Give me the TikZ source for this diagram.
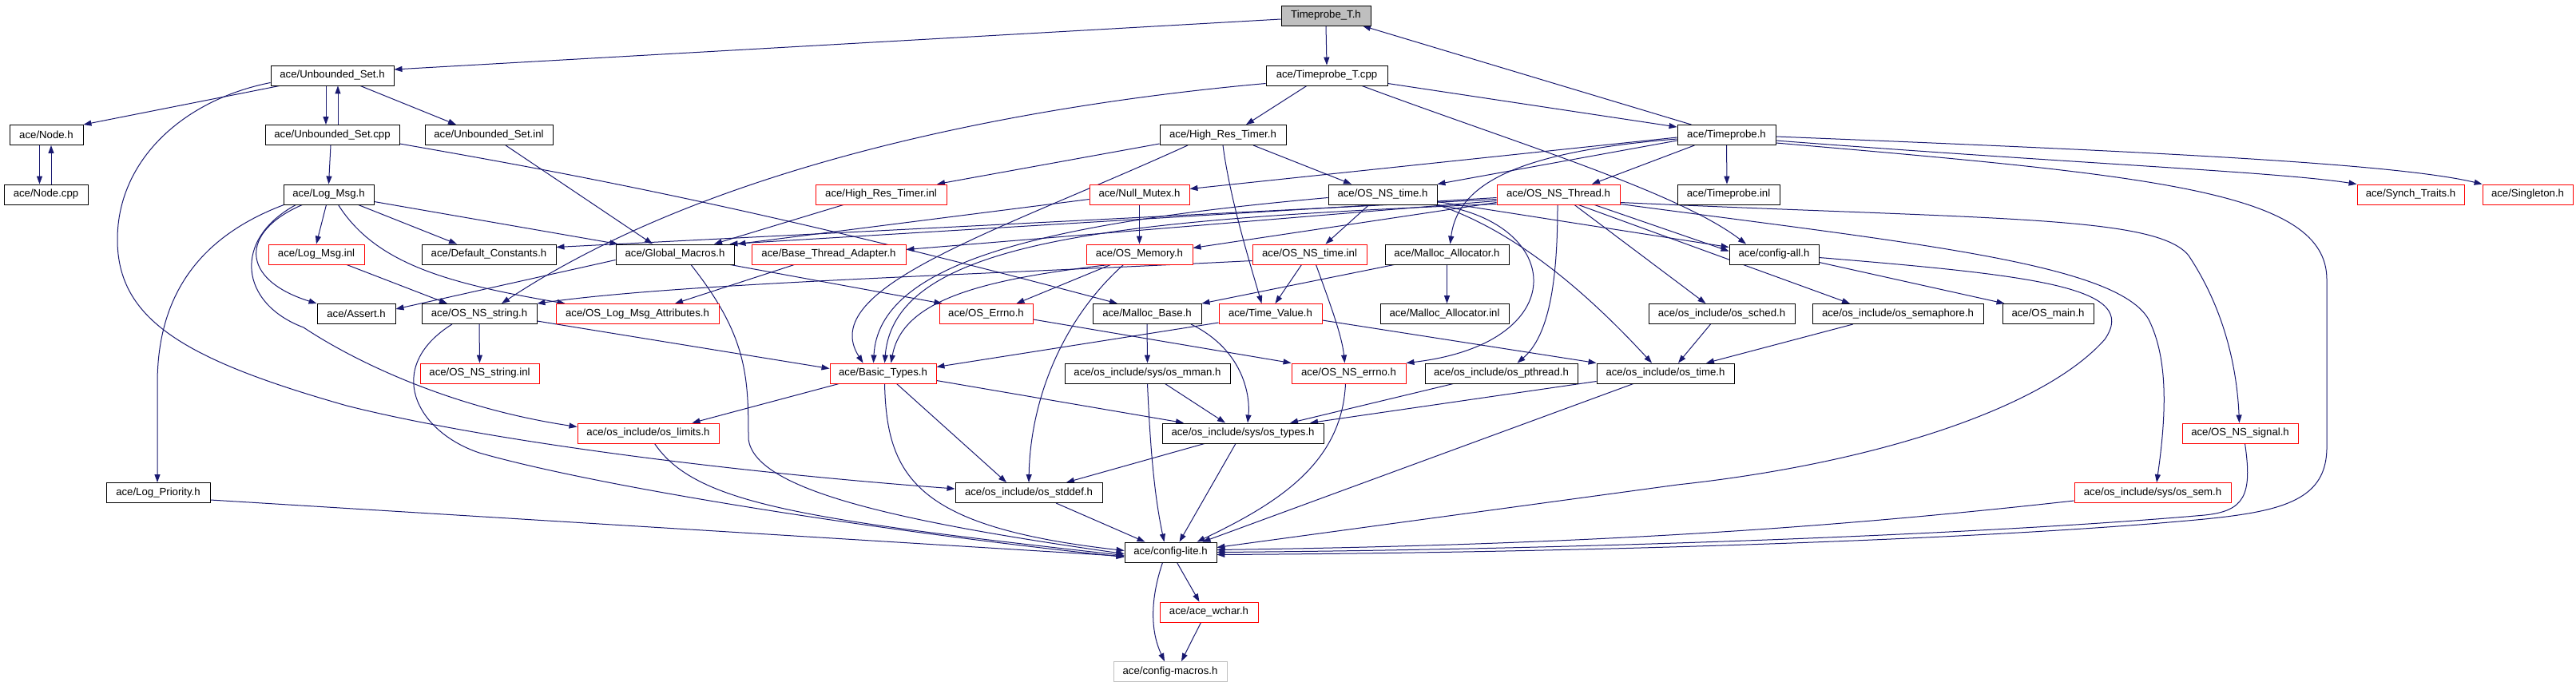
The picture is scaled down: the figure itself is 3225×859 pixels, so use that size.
\documentclass[tikz,border=0pt]{standalone}
\usepackage{fontspec}
\setmainfont{Liberation Sans}
\usetikzlibrary{arrows.meta}
\definecolor{edgecol}{HTML}{191970}
\definecolor{boxgray}{HTML}{BFBFBF}
\newcommand\fsz{\fontsize{13.2}{15}\selectfont}
\pgfdeclarelayer{back}
\pgfdeclarelayer{edges}
\pgfsetlayers{back,edges,main}
\tikzset{
  box/.style={draw=black, line width=0.9pt, fill=white, minimum height=25pt, inner sep=0pt, font=\fsz},
  redbox/.style={box, draw=red},
  graybox/.style={box, fill=boxgray},
  ghostbox/.style={box, draw=boxgray},
  edge/.style={draw=edgecol, line width=1pt, -{Triangle[length=10pt,width=7pt]}}
}
\begin{document}
\begin{tikzpicture}[x=1pt,y=-1pt]
\useasboundingbox (0,0) rectangle (3225,859);
\begin{pgfonlayer}{back}
\fill[white] (0,0) rectangle (3225,859);
\end{pgfonlayer}

% row 0
\node[graybox, minimum width=112pt] (TT_h) at (1660,19.5) {Timeprobe\_T.h};
% row 1
\node[box, minimum width=154pt] (US_h) at (416,94.5) {ace/Unbounded\_Set.h};
\node[box, minimum width=152pt] (TT_cpp) at (1661,94.5) {ace/Timeprobe\_T.cpp};
% row 2
\node[box, minimum width=92pt] (Node_h) at (58,169) {ace/Node.h};
\node[box, minimum width=168pt] (US_cpp) at (416,169) {ace/Unbounded\_Set.cpp};
\node[box, minimum width=160pt] (US_inl) at (612,169) {ace/Unbounded\_Set.inl};
\node[box, minimum width=158pt] (HRT_h) at (1531,169) {ace/High\_Res\_Timer.h};
\node[box, minimum width=123pt] (TP_h) at (2161.5,169) {ace/Timeprobe.h};
% row 3
\node[box, minimum width=105pt] (Node_cpp) at (57.5,243.5) {ace/Node.cpp};
\node[box, minimum width=113pt] (LogMsg_h) at (411.5,243.5) {ace/Log\_Msg.h};
\node[redbox, minimum width=164pt] (HRT_inl) at (1103,243.5) {ace/High\_Res\_Timer.inl};
\node[redbox, minimum width=125pt] (NullMutex) at (1426.5,243.5) {ace/Null\_Mutex.h};
\node[box, minimum width=136pt] (OSNStime_h) at (1731,243.5) {ace/OS\_NS\_time.h};
\node[redbox, minimum width=154pt] (OSNSThread) at (1951,243.5) {ace/OS\_NS\_Thread.h};
\node[box, minimum width=128pt] (TP_inl) at (2164,243.5) {ace/Timeprobe.inl};
\node[redbox, minimum width=134pt] (SynchTraits) at (3018,243.5) {ace/Synch\_Traits.h};
\node[redbox, minimum width=113pt] (Singleton) at (3164.5,243.5) {ace/Singleton.h};
% row 4
\node[redbox, minimum width=120pt] (LogMsg_inl) at (396,318.5) {ace/Log\_Msg.inl};
\node[box, minimum width=168pt] (DefConst) at (612,318.5) {ace/Default\_Constants.h};
\node[box, minimum width=148pt] (GlobalMacros) at (845,318.5) {ace/Global\_Macros.h};
\node[redbox, minimum width=193pt] (BaseThread) at (1037.5,318.5) {ace/Base\_Thread\_Adapter.h};
\node[redbox, minimum width=133pt] (OSMemory) at (1426.5,318.5) {ace/OS\_Memory.h};
\node[redbox, minimum width=143pt] (OSNStime_inl) at (1639.5,318.5) {ace/OS\_NS\_time.inl};
\node[box, minimum width=155pt] (MallocAlloc_h) at (1811.5,318.5) {ace/Malloc\_Allocator.h};
\node[box, minimum width=112pt] (ConfigAll) at (2221,318.5) {ace/config-all.h};
% row 5
\node[box, minimum width=98pt] (Assert) at (446,393) {ace/Assert.h};
\node[box, minimum width=144pt] (OSNSstring_h) at (600,393) {ace/OS\_NS\_string.h};
\node[redbox, minimum width=204pt] (OSLogMsgAttr) at (798,393) {ace/OS\_Log\_Msg\_Attributes.h};
\node[redbox, minimum width=117pt] (OSErrno) at (1234.5,393) {ace/OS\_Errno.h};
\node[box, minimum width=136pt] (MallocBase) at (1436,393) {ace/Malloc\_Base.h};
\node[redbox, minimum width=129pt] (TimeValue) at (1590.5,393) {ace/Time\_Value.h};
\node[box, minimum width=161pt] (MallocAlloc_inl) at (1808.5,393) {ace/Malloc\_Allocator.inl};
\node[box, minimum width=183pt] (os_sched) at (2155.5,393) {ace/os\_include/os\_sched.h};
\node[box, minimum width=214pt] (os_semaphore) at (2376,393) {ace/os\_include/os\_semaphore.h};
\node[box, minimum width=114pt] (OS_main) at (2564,393) {ace/OS\_main.h};
% row 6
\node[redbox, minimum width=149pt] (OSNSstring_inl) at (600.5,467.5) {ace/OS\_NS\_string.inl};
\node[redbox, minimum width=133pt] (BasicTypes) at (1105.5,467.5) {ace/Basic\_Types.h};
\node[box, minimum width=207pt] (os_mman) at (1436.5,467.5) {ace/os\_include/sys/os\_mman.h};
\node[redbox, minimum width=143pt] (OSNSerrno) at (1688.5,467.5) {ace/OS\_NS\_errno.h};
\node[box, minimum width=191pt] (os_pthread) at (1879.5,467.5) {ace/os\_include/os\_pthread.h};
\node[box, minimum width=172pt] (os_time) at (2085,467.5) {ace/os\_include/os\_time.h};
% row 7
\node[redbox, minimum width=177pt] (os_limits) at (811.5,542.5) {ace/os\_include/os\_limits.h};
\node[box, minimum width=202pt] (os_types) at (1556,542.5) {ace/os\_include/sys/os\_types.h};
\node[redbox, minimum width=145pt] (OSNSsignal) at (2804.5,542.5) {ace/OS\_NS\_signal.h};
% row 8
\node[box, minimum width=130pt] (LogPriority) at (198,617) {ace/Log\_Priority.h};
\node[box, minimum width=184pt] (os_stddef) at (1288,617) {ace/os\_include/os\_stddef.h};
\node[redbox, minimum width=196pt] (os_sem) at (2695,617) {ace/os\_include/sys/os\_sem.h};
% row 9-11
\node[box, minimum width=115pt] (ConfigLite) at (1465.5,691.5) {ace/config-lite.h};
\node[redbox, minimum width=123pt] (AceWchar) at (1513.5,766.5) {ace/ace\_wchar.h};
\node[ghostbox, minimum width=142pt] (ConfigMacros) at (1465,841) {ace/config-macros.h};

\begin{pgfonlayer}{edges}
% Timeprobe_T.h
\draw[edge] ([yshift=-4.5pt]TT_h.west) -- ([yshift=7.5pt]US_h.east);
\draw[edge] (TT_h.south) -- (TT_cpp.north);
\draw[edge] ([xshift=-44pt]TP_h.north) -- ([xshift=46pt]TT_h.south);
% Unbounded_Set.h
\draw[edge] ([xshift=-66pt]US_h.south) -- (Node_h.north east);
\draw[edge] ([xshift=-8pt]US_h.south) -- ([xshift=-8pt]US_cpp.north);
\draw[edge] ([xshift=7pt]US_cpp.north) -- ([xshift=7pt]US_h.south);
\draw[edge] ([xshift=35pt]US_h.south) -- ([xshift=-41pt]US_inl.north);
\draw[edge] ([yshift=-9pt]US_h.west) .. controls (230,125) and (147,200) .. (147,300)
  .. controls (147,400) and (230,450) .. (434,508) .. controls (600,550) and (900,590) .. ([yshift=5pt]os_stddef.west);
% Unbounded_Set.cpp / inl
\draw[edge] ([xshift=-2pt]US_cpp.south) -- (LogMsg_h.north);
\draw[edge] ([yshift=-11pt]US_cpp.east) .. controls (700,215) and (950,260) .. ([xshift=-37pt]MallocBase.north);
\draw[edge] ([xshift=21pt]US_inl.south) -- ([xshift=-28pt]GlobalMacros.north);
% Node
\draw[edge] ([xshift=-8.5pt]Node_h.south) -- ([xshift=-8pt]Node_cpp.north);
\draw[edge] ([xshift=6.5pt]Node_cpp.north) -- ([xshift=6pt]Node_h.south);
% Log_Msg.h
\draw[edge] ([xshift=-3pt]LogMsg_h.south) -- (LogMsg_inl.north);
\draw[edge] ([xshift=37pt]LogMsg_h.south) -- ([xshift=-40pt]DefConst.north);
\draw[edge] ([yshift=-9pt]LogMsg_h.east) -- ([xshift=3pt]GlobalMacros.north west);
\draw[edge] ([xshift=-33pt]LogMsg_h.south) .. controls (300,290) and (300,350) .. (Assert.north west);
\draw[edge] ([xshift=12pt]LogMsg_h.south) .. controls (470,330) and (560,355) .. ([xshift=12pt]OSLogMsgAttr.north west);
\draw[edge] ([xshift=-41pt]LogMsg_h.south) .. controls (290,300) and (300,380) .. (380,410)
  .. controls (440,450) and (560,510) .. ([yshift=8pt]os_limits.west);
\draw[edge] ([xshift=-56pt]LogMsg_h.south) .. controls (240,300) and (197,380) .. (197,480) -- ([xshift=-1pt]LogPriority.north);
% Timeprobe_T.cpp
\draw[edge] ([xshift=-25pt]TT_cpp.south) -- ([xshift=29pt]HRT_h.north);
\draw[edge] ([yshift=-10pt]TT_cpp.east) -- ([yshift=-3pt]TP_h.north west);
\draw[edge] ([yshift=-10pt]TT_cpp.west) .. controls (1300,130) and (900,200) .. ([xshift=28pt]OSNSstring_h.north);
\draw[edge] ([xshift=44pt]TT_cpp.south) .. controls (1900,180) and (2100,240) .. ([xshift=-35pt]ConfigAll.north);
% High_Res_Timer.h
\draw[edge] ([yshift=-11pt]HRT_h.west) -- ([xshift=70pt]HRT_inl.north);
\draw[edge] ([xshift=-44pt]HRT_h.south) .. controls (1250,290) and (1020,360) .. ([xshift=-25pt]BasicTypes.north);
\draw[edge] (HRT_h.south) .. controls (1540,250) and (1565,330) .. ([xshift=-11pt]TimeValue.north);
\draw[edge] ([xshift=38pt]HRT_h.south) -- ([xshift=-39pt]OSNStime_h.north);
% Timeprobe.h
\draw[edge] ([yshift=-3pt]TP_h.west) -- ([yshift=7pt]NullMutex.east);
\draw[edge] ([yshift=-7pt]TP_h.west) -- (OSNStime_h.north east);
\draw[edge] ([xshift=-40pt]TP_h.south) -- ([xshift=42pt]OSNSThread.north);
\draw[edge] ([yshift=-5pt]TP_h.west) .. controls (1900,190) and (1825,230) .. ([xshift=4pt]MallocAlloc_h.north);
\draw[edge] (TP_h.south) -- ([xshift=-2pt]TP_inl.north);
\draw[edge] ([yshift=-7pt]TP_h.east) .. controls (2600,205) and (2850,215) .. (SynchTraits.north west);
\draw[edge] ([yshift=-2pt]TP_h.east) .. controls (2700,190) and (3000,205) .. (Singleton.north west);
\draw[edge] ([yshift=-10pt]TP_h.east) .. controls (2700,220) and (2913,240) .. (2913,350) -- (2913,560)
  .. controls (2913,625) and (2860,640) .. (2760,650) .. controls (2500,675) and (2000,692) .. ([yshift=-3pt]ConfigLite.east);
% Null_Mutex.h
\draw[edge] (NullMutex.south) -- (OSMemory.north);
\draw[edge] ([yshift=-6pt]NullMutex.west) -- ([xshift=4pt]GlobalMacros.north east);
% OS_NS_time.h
\draw[edge] ([xshift=-17pt]OSNStime_h.south) -- ([xshift=20pt]OSNStime_inl.north);
\draw[edge] ([yshift=-4pt]OSNStime_h.west) .. controls (1300,280) and (1100,330) .. ([xshift=-12pt]BasicTypes.north);
\draw[edge] (OSNStime_h.south east) .. controls (1960,280) and (1970,430) .. (OSNSerrno.north east);
\draw[edge] (OSNStime_h.south east) .. controls (1900,290) and (1990,370) .. ([xshift=-17pt]os_time.north);
\draw[edge] ([yshift=-9pt]OSNStime_h.east) -- ([yshift=-4pt]ConfigAll.north west);
% OS_NS_Thread.h
\draw[edge] ([yshift=-4pt]OSNSThread.west) -- ([xshift=-6pt]GlobalMacros.north east);
\draw[edge] ([yshift=-6pt]OSNSThread.west) -- ([yshift=9pt]DefConst.east);
\draw[edge] ([yshift=-8pt]OSNSThread.west) -- ([yshift=6pt]BaseThread.east);
\draw[edge] ([yshift=-10pt]OSNSThread.west) -- ([yshift=8pt]OSMemory.east);
\draw[edge] ([yshift=-12pt]OSNSThread.west) .. controls (1400,275) and (1120,300) .. ([xshift=2pt]BasicTypes.north);
\draw[edge] ([xshift=-1pt]OSNSThread.south) .. controls (1950,350) and (1940,420) .. ([xshift=20pt]os_pthread.north);
\draw[edge] ([xshift=20pt]OSNSThread.south) -- ([xshift=-20pt]os_sched.north);
\draw[edge] ([xshift=25pt]OSNSThread.south) -- ([xshift=-60pt]os_semaphore.north);
\draw[edge] ([xshift=45pt]OSNSThread.south) -- ([yshift=4pt]ConfigAll.west);
\draw[edge] ([yshift=-10pt]OSNSThread.east) .. controls (2500,275) and (2700,270) .. (2740,320)
  .. controls (2780,380) and (2800,450) .. ([xshift=-1pt]OSNSsignal.north);
\draw[edge] ([yshift=-12pt]OSNSThread.east) .. controls (2400,305) and (2650,330) .. (2690,400)
  .. controls (2715,450) and (2712,520) .. ([xshift=5pt]os_sem.north);
% Malloc_Allocator.h
\draw[edge] (MallocAlloc_h.south) -- ([xshift=3pt]MallocAlloc_inl.north);
\draw[edge] ([xshift=-66pt]MallocAlloc_h.south) -- (MallocBase.north east);
% config-all.h
\draw[edge] ([yshift=-10pt]ConfigAll.east) -- ([xshift=3pt]OS_main.north west);
\draw[edge] ([yshift=-4pt]ConfigAll.east) .. controls (2550,345) and (2680,360) .. (2635,425)
  .. controls (2560,510) and (2350,580) .. (2100,607) -- ([yshift=6pt]ConfigLite.east);
% row 4 others
\draw[edge] ([xshift=38pt]LogMsg_inl.south) -- ([xshift=-40pt]OSNSstring_h.north);
\draw[edge] ([yshift=-7pt]GlobalMacros.west) -- ([yshift=6pt]Assert.east);
\draw[edge] ([xshift=69pt]GlobalMacros.south) -- ([xshift=-55pt]OSErrno.north);
\draw[edge] ([xshift=20pt]GlobalMacros.south) .. controls (935,420) and (937,470) .. (937,550)
  .. controls (945,610) and (1100,650) .. ([yshift=-2pt]ConfigLite.west);
\draw[edge] ([xshift=-43pt]BaseThread.south) -- ([xshift=47pt]OSLogMsgAttr.north);
\draw[edge] ([xshift=-36pt]OSMemory.south) -- ([xshift=38pt]OSErrno.north);
\draw[edge] ([xshift=-38pt]OSMemory.south) .. controls (1230,350) and (1130,375) .. ([xshift=10pt]BasicTypes.north);
\draw[edge] ([xshift=-20pt]OSMemory.south) .. controls (1330,400) and (1290,500) .. (os_stddef.north);
\draw[edge] ([yshift=-8pt]OSNStime_inl.west) .. controls (1200,345) and (850,355) .. (OSNSstring_h.north east);
\draw[edge] ([xshift=-10pt]OSNStime_inl.south) -- ([xshift=6pt]TimeValue.north);
\draw[edge] ([xshift=8pt]OSNStime_inl.south) .. controls (1665,380) and (1680,420) .. ([xshift=-5pt]OSNSerrno.north);
% row 5 others
\draw[edge] ([yshift=-7pt]OSErrno.east) -- (OSNSerrno.north west);
\draw[edge] (OSNSstring_h.south) -- (OSNSstring_inl.north);
\draw[edge] ([yshift=-9pt]OSNSstring_h.east) -- ([yshift=6pt]BasicTypes.west);
\draw[edge] ([xshift=-34pt]OSNSstring_h.south) .. controls (480,460) and (520,540) .. (600,567)
  .. controls (750,610) and (1100,665) .. ([yshift=-6pt]ConfigLite.west);
\draw[edge] (MallocBase.south) -- (os_mman.north);
\draw[edge] ([xshift=55pt]MallocBase.south) .. controls (1560,440) and (1565,500) .. ([xshift=6pt]os_types.north);
\draw[edge] ([yshift=-11pt]TimeValue.west) -- ([yshift=8pt]BasicTypes.east);
\draw[edge] ([yshift=-8pt]TimeValue.east) -- (os_time.north west);
\draw[edge] ([xshift=-14pt]os_sched.south) -- ([xshift=16pt]os_time.north);
\draw[edge] ([xshift=-56pt]os_semaphore.south) -- ([xshift=51pt]os_time.north);
% row 6
\draw[edge] ([xshift=-55pt]BasicTypes.south) -- ([xshift=55pt]os_limits.north);
\draw[edge] ([yshift=-9pt]BasicTypes.east) -- ([xshift=-74pt]os_types.north);
\draw[edge] ([xshift=17pt]BasicTypes.south) -- ([xshift=-28pt]os_stddef.north);
\draw[edge] ([xshift=2pt]BasicTypes.south) .. controls (1110,600) and (1150,660) .. ([yshift=2pt]ConfigLite.west);
\draw[edge] ([xshift=22pt]os_mman.south) -- ([xshift=-22pt]os_types.north);
\draw[edge] (os_mman.south) .. controls (1440,560) and (1445,620) .. ([xshift=-8pt]ConfigLite.north);
\draw[edge] ([xshift=-4pt]OSNSerrno.south) .. controls (1680,580) and (1600,630) .. ([xshift=33pt]ConfigLite.north);
\draw[edge] ([xshift=-60pt]os_pthread.south) -- ([xshift=59pt]os_types.north);
\draw[edge] ([yshift=-10pt]os_time.west) -- ([xshift=84pt]os_types.north);
\draw[edge] ([xshift=-40pt]os_time.south) -- ([xshift=40pt]ConfigLite.north);
% row 7-8
\draw[edge] ([xshift=8pt]os_limits.south) .. controls (870,630) and (1000,650) .. ([yshift=-4pt]ConfigLite.west);
\draw[edge] ([xshift=-48pt]os_types.south) -- ([xshift=47pt]os_stddef.north);
\draw[edge] ([xshift=-9pt]os_types.south) -- ([xshift=11pt]ConfigLite.north);
\draw[edge] ([xshift=6pt]OSNSsignal.south) .. controls (2820,620) and (2810,640) .. (2760,645)
  .. controls (2500,668) and (2000,688) .. (ConfigLite.east);
\draw[edge] ([xshift=34pt]os_stddef.south) -- ([xshift=-32pt]ConfigLite.north);
\draw[edge] ([yshift=-9pt]LogPriority.east) -- ([yshift=-5pt]ConfigLite.west);
\draw[edge] ([yshift=-10pt]os_sem.west) .. controls (2300,660) and (2000,682) .. ([yshift=3pt]ConfigLite.east);
% bottom
\draw[edge] ([xshift=8pt]ConfigLite.south) -- ([xshift=-12pt]AceWchar.north);
\draw[edge] ([xshift=-10pt]ConfigLite.south) .. controls (1440,750) and (1440,790) .. ([xshift=-7pt]ConfigMacros.north);
\draw[edge] ([xshift=-10pt]AceWchar.south) -- ([xshift=14pt]ConfigMacros.north);
\draw[edge] ([xshift=-47pt]HRT_inl.south) -- ([xshift=49pt]GlobalMacros.north);
\end{pgfonlayer}
\end{tikzpicture}
\end{document}
